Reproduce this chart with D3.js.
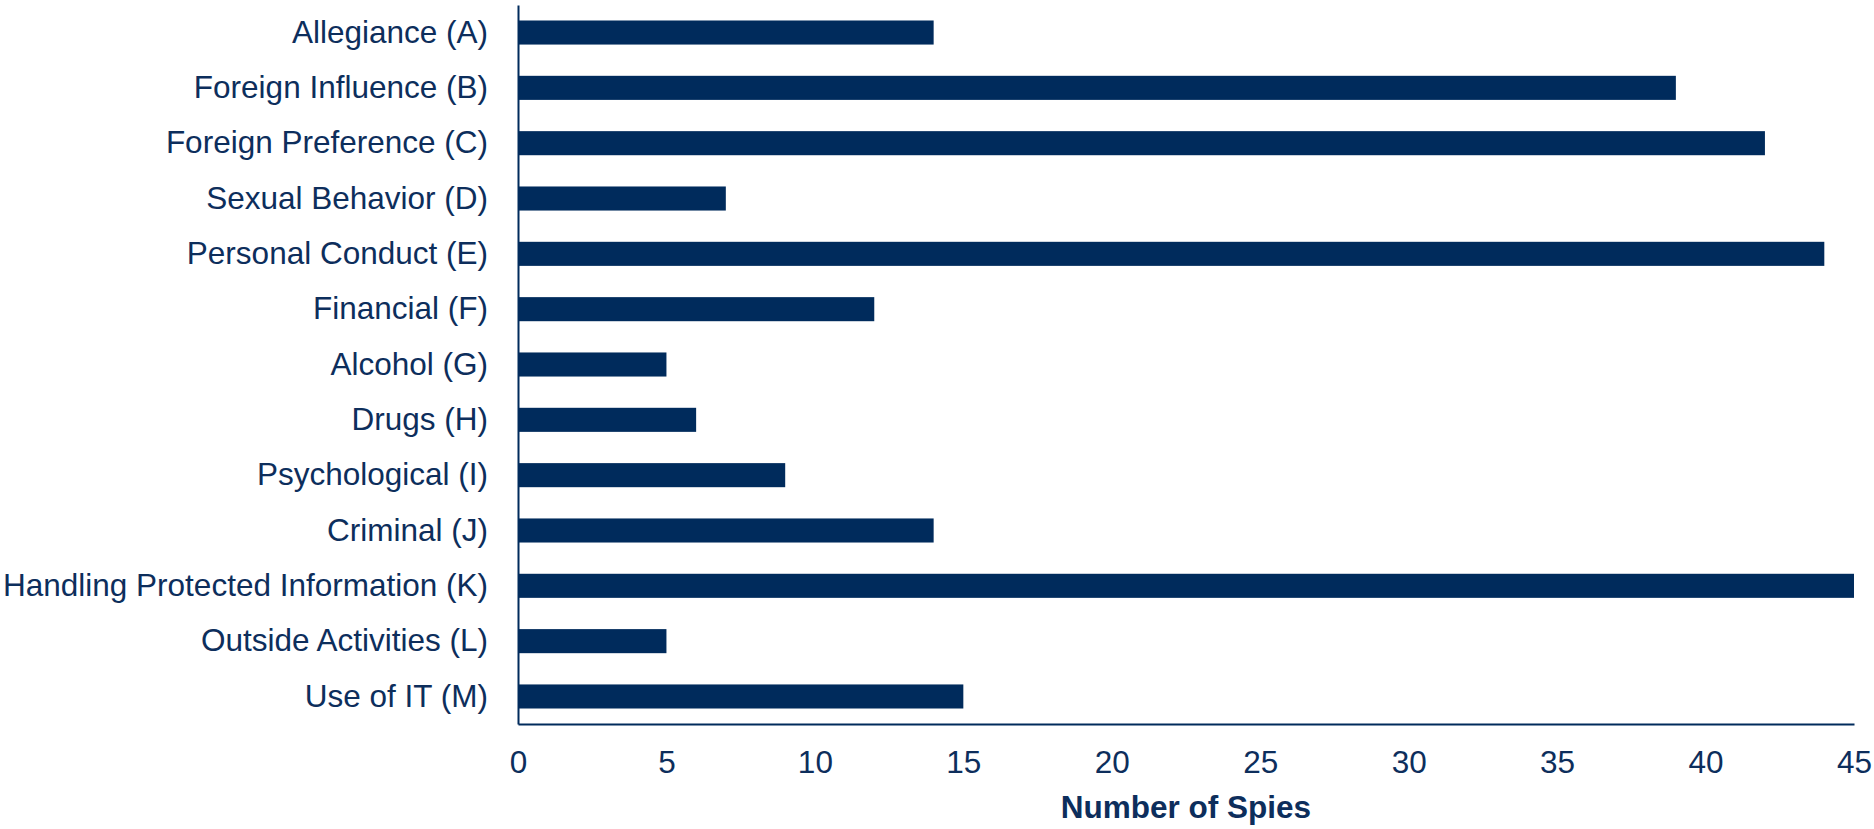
<!DOCTYPE html>
<html>
<head>
<meta charset="utf-8">
<script src="https://cdn.jsdelivr.net/npm/d3@7"></script>
<style>
  html, body { margin: 0; padding: 0; background: #ffffff; }
  svg { display: block; }
</style>
</head>
<body>
<svg id="chart" width="1874" height="829"></svg>
<script>
// Adjudicative guideline categories and number of spies flagged under each
const categories = [
  "Allegiance (A)",
  "Foreign Influence (B)",
  "Foreign Preference (C)",
  "Sexual Behavior (D)",
  "Personal Conduct (E)",
  "Financial (F)",
  "Alcohol (G)",
  "Drugs (H)",
  "Psychological (I)",
  "Criminal (J)",
  "Handling Protected Information (K)",
  "Outside Activities (L)",
  "Use of IT (M)"
];
const spies = [14, 39, 42, 7, 44, 12, 5, 6, 9, 14, 45, 5, 15];
const xTicks = [0, 5, 10, 15, 20, 25, 30, 35, 40, 45];
const xTitle = "Number of Spies";

const navy = "#002b5c";
const textColor = "#0d2e5c";
const font = "Liberation Sans, Arial, sans-serif";
const fontSize = "31.5px";

const svg = d3.select("#chart");
const margin = { left: 518, right: 20, top: 5, bottom: 105 };
const W = 1874, H = 829;

const x = d3.scaleLinear()
  .domain([0, 45])
  .range([margin.left, 1854]);

const y = d3.scaleBand()
  .domain(categories)
  .range([margin.top, H - margin.bottom])
  .paddingInner(0.565)
  .paddingOuter(0.28);

// Bars
svg.append("g")
  .selectAll("rect")
  .data(categories.map((c, i) => ({ c, v: spies[i] })))
  .join("rect")
  .attr("x", x(0))
  .attr("y", d => y(d.c))
  .attr("width", d => x(d.v) - x(0))
  .attr("height", y.bandwidth())
  .attr("fill", navy);

// Category axis (left)
const yAxis = svg.append("g")
  .attr("transform", `translate(${x(0)},0)`)
  .call(d3.axisLeft(y).tickSize(0).tickPadding(30));
yAxis.select(".domain")
  .attr("stroke", navy)
  .attr("stroke-width", 2);
yAxis.selectAll("text")
  .attr("fill", textColor)
  .style("font-family", font)
  .style("font-size", fontSize);

// Value axis (bottom)
const xAxis = svg.append("g")
  .attr("transform", `translate(0,${H - margin.bottom})`)
  .call(d3.axisBottom(x).tickValues(xTicks).tickSize(0).tickPadding(27));
xAxis.select(".domain")
  .attr("stroke", navy)
  .attr("stroke-width", 2);
xAxis.selectAll("text")
  .attr("fill", textColor)
  .style("font-family", font)
  .style("font-size", fontSize);

// Axis title
svg.append("text")
  .attr("x", (x(0) + x(45)) / 2)
  .attr("y", 818)
  .attr("text-anchor", "middle")
  .attr("fill", textColor)
  .style("font-family", font)
  .style("font-size", fontSize)
  .style("font-weight", "bold")
  .text(xTitle);
</script>
</body>
</html>
